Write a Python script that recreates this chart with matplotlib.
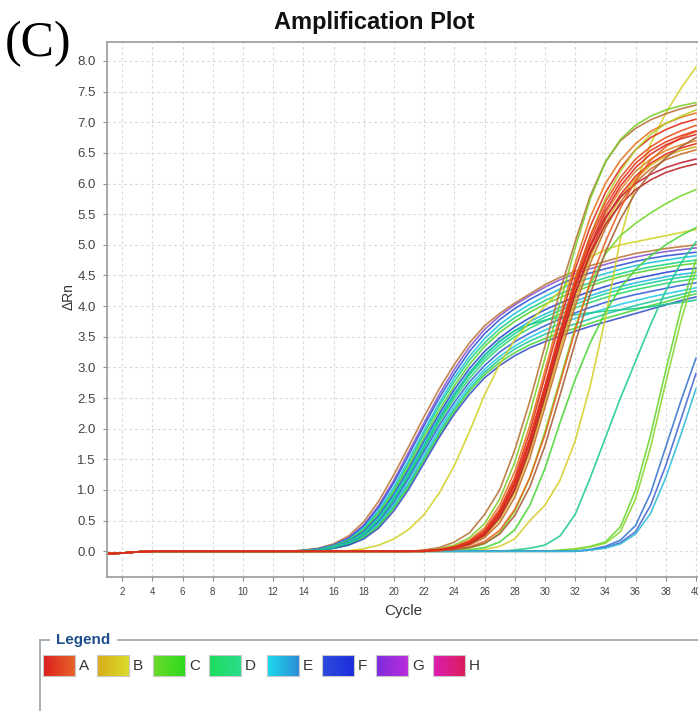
import numpy as np
import matplotlib.pyplot as plt
from matplotlib.lines import Line2D
from matplotlib.colors import LinearSegmentedColormap

plt.rcParams['font.family'] = ['Liberation Sans', 'DejaVu Sans']

cycles = np.arange(1, 41)
start_dip = [-0.04, -0.03, -0.01]

# early wells (rows C-F plus a couple of A/G wells), values from cycle 13 on
early_start = 13
early_colors = ['#c0783c', '#8a5ad0', '#3456d8', '#22c4e0', '#20d488', '#5cd434',
                '#2a48d0', '#2ab8e0', '#1ed49c', '#34d870', '#3a60d8', '#26cce4',
                '#22c8a0', '#4cd83c', '#3a52c8', '#1ec890']
early_values = [
    [0.0, 0.02, 0.05, 0.12, 0.25, 0.48, 0.82, 1.25, 1.72, 2.2, 2.65, 3.05, 3.4, 3.68, 3.88, 4.05, 4.2, 4.35, 4.47, 4.57, 4.66, 4.73, 4.8, 4.86, 4.9, 4.94, 4.97, 5.0],
    [0.0, 0.01, 0.04, 0.1, 0.22, 0.43, 0.75, 1.16, 1.63, 2.1, 2.56, 2.97, 3.33, 3.62, 3.84, 4.02, 4.17, 4.31, 4.43, 4.53, 4.61, 4.68, 4.75, 4.8, 4.85, 4.89, 4.92, 4.95],
    [0.0, 0.01, 0.04, 0.1, 0.21, 0.41, 0.72, 1.12, 1.58, 2.05, 2.5, 2.9, 3.26, 3.55, 3.78, 3.96, 4.11, 4.24, 4.36, 4.46, 4.54, 4.61, 4.67, 4.73, 4.78, 4.82, 4.85, 4.88],
    [0.0, 0.01, 0.03, 0.09, 0.19, 0.38, 0.67, 1.05, 1.5, 1.97, 2.42, 2.83, 3.18, 3.47, 3.7, 3.88, 4.03, 4.16, 4.28, 4.38, 4.46, 4.53, 4.6, 4.66, 4.71, 4.75, 4.79, 4.82],
    [0.0, 0.01, 0.03, 0.08, 0.18, 0.36, 0.64, 1.0, 1.45, 1.92, 2.37, 2.77, 3.12, 3.4, 3.63, 3.81, 3.96, 4.09, 4.2, 4.3, 4.38, 4.46, 4.53, 4.59, 4.64, 4.68, 4.72, 4.75],
    [0.0, 0.01, 0.03, 0.08, 0.17, 0.34, 0.61, 0.97, 1.4, 1.86, 2.3, 2.7, 3.05, 3.34, 3.57, 3.75, 3.9, 4.03, 4.14, 4.24, 4.33, 4.41, 4.48, 4.54, 4.59, 4.63, 4.67, 4.7],
    [0.0, 0.01, 0.03, 0.07, 0.16, 0.32, 0.58, 0.93, 1.35, 1.8, 2.24, 2.64, 2.98, 3.26, 3.48, 3.66, 3.81, 3.94, 4.05, 4.15, 4.24, 4.32, 4.39, 4.45, 4.5, 4.55, 4.59, 4.62],
    [0.0, 0.01, 0.03, 0.07, 0.15, 0.3, 0.55, 0.9, 1.31, 1.76, 2.19, 2.58, 2.92, 3.2, 3.42, 3.6, 3.75, 3.87, 3.98, 4.08, 4.17, 4.25, 4.32, 4.38, 4.43, 4.48, 4.52, 4.55],
    [0.0, 0.01, 0.02, 0.06, 0.14, 0.29, 0.53, 0.87, 1.28, 1.72, 2.15, 2.54, 2.88, 3.15, 3.37, 3.55, 3.7, 3.82, 3.93, 4.03, 4.12, 4.2, 4.27, 4.33, 4.38, 4.43, 4.47, 4.5],
    [0.0, 0.0, 0.02, 0.06, 0.13, 0.27, 0.5, 0.83, 1.23, 1.67, 2.1, 2.49, 2.82, 3.1, 3.32, 3.5, 3.64, 3.76, 3.87, 3.97, 4.06, 4.14, 4.21, 4.27, 4.32, 4.37, 4.41, 4.45],
    [0.0, 0.0, 0.02, 0.05, 0.12, 0.26, 0.48, 0.8, 1.2, 1.63, 2.05, 2.43, 2.76, 3.03, 3.25, 3.42, 3.56, 3.68, 3.79, 3.89, 3.98, 4.06, 4.13, 4.19, 4.24, 4.29, 4.34, 4.38],
    [0.0, 0.0, 0.02, 0.05, 0.11, 0.24, 0.45, 0.76, 1.14, 1.57, 1.99, 2.37, 2.7, 2.97, 3.18, 3.35, 3.49, 3.61, 3.71, 3.8, 3.88, 3.96, 4.03, 4.09, 4.15, 4.2, 4.25, 4.3],
    [0.0, 0.0, 0.02, 0.05, 0.11, 0.23, 0.43, 0.73, 1.1, 1.52, 1.94, 2.32, 2.65, 2.92, 3.13, 3.3, 3.43, 3.54, 3.63, 3.71, 3.79, 3.87, 3.94, 4.01, 4.07, 4.13, 4.19, 4.25],
    [0.0, 0.0, 0.02, 0.05, 0.1, 0.22, 0.41, 0.7, 1.06, 1.48, 1.9, 2.28, 2.61, 2.88, 3.08, 3.24, 3.37, 3.47, 3.56, 3.64, 3.72, 3.8, 3.87, 3.94, 4.01, 4.07, 4.14, 4.2],
    [0.0, 0.0, 0.02, 0.05, 0.1, 0.2, 0.38, 0.66, 1.02, 1.44, 1.86, 2.24, 2.56, 2.83, 3.03, 3.19, 3.32, 3.42, 3.51, 3.59, 3.67, 3.74, 3.81, 3.88, 3.95, 4.02, 4.09, 4.15],
    [0.0, 0.0, 0.02, 0.06, 0.14, 0.28, 0.52, 0.85, 1.25, 1.7, 2.15, 2.55, 2.9, 3.2, 3.43, 3.6, 3.7, 3.77, 3.82, 3.86, 3.89, 3.92, 3.94, 3.96, 3.99, 4.03, 4.06, 4.1],
]

# main A-row bundle, values from cycle 22 on
red_start = 22
red_colors = ['#b8743a', '#7ccf2c', '#e8761e', '#e0301c', '#b4d232', '#e8501e',
              '#e08a28', '#e4281c', '#d8ac20', '#c8702a', '#c42434', '#b82a2c',
              '#ee6420', '#a8603a', '#e83a1c', '#dc2a20']
red_values = [
    [0.02, 0.06, 0.15, 0.3, 0.6, 1.0, 1.65, 2.45, 3.35, 4.25, 5.05, 5.8, 6.35, 6.7, 6.9, 7.04, 7.14, 7.22, 7.28],
    [0.01, 0.04, 0.1, 0.22, 0.45, 0.85, 1.45, 2.25, 3.15, 4.05, 4.95, 5.75, 6.35, 6.72, 6.95, 7.1, 7.2, 7.27, 7.32],
    [0.01, 0.03, 0.08, 0.18, 0.38, 0.75, 1.3, 2.05, 2.95, 3.85, 4.7, 5.45, 6.0, 6.38, 6.65, 6.85, 6.98, 7.08, 7.15],
    [0.01, 0.03, 0.07, 0.16, 0.34, 0.68, 1.2, 1.95, 2.85, 3.75, 4.6, 5.3, 5.85, 6.25, 6.55, 6.75, 6.88, 6.98, 7.05],
    [0.0, 0.02, 0.06, 0.14, 0.3, 0.6, 1.1, 1.8, 2.65, 3.55, 4.4, 5.15, 5.75, 6.2, 6.55, 6.8, 6.98, 7.1, 7.2],
    [0.01, 0.02, 0.06, 0.15, 0.32, 0.65, 1.15, 1.85, 2.7, 3.6, 4.45, 5.15, 5.7, 6.1, 6.4, 6.6, 6.75, 6.86, 6.95],
    [0.01, 0.02, 0.06, 0.14, 0.3, 0.62, 1.1, 1.8, 2.65, 3.5, 4.3, 4.95, 5.5, 5.9, 6.2, 6.4, 6.54, 6.63, 6.7],
    [0.0, 0.02, 0.05, 0.12, 0.27, 0.56, 1.02, 1.7, 2.55, 3.4, 4.2, 4.88, 5.42, 5.82, 6.12, 6.33, 6.48, 6.58, 6.65],
    [0.0, 0.02, 0.05, 0.11, 0.25, 0.52, 0.96, 1.62, 2.45, 3.3, 4.1, 4.8, 5.35, 5.77, 6.08, 6.3, 6.45, 6.54, 6.6],
    [0.0, 0.01, 0.04, 0.1, 0.22, 0.46, 0.88, 1.52, 2.35, 3.2, 4.0, 4.7, 5.27, 5.7, 6.02, 6.24, 6.39, 6.48, 6.55],
    [0.01, 0.02, 0.06, 0.14, 0.3, 0.63, 1.12, 1.82, 2.68, 3.55, 4.35, 4.98, 5.45, 5.78, 6.0, 6.15, 6.26, 6.34, 6.4],
    [0.0, 0.02, 0.05, 0.12, 0.26, 0.55, 1.0, 1.68, 2.52, 3.4, 4.2, 4.85, 5.33, 5.66, 5.9, 6.06, 6.18, 6.26, 6.32],
    [0.0, 0.01, 0.03, 0.07, 0.16, 0.34, 0.68, 1.2, 1.9, 2.75, 3.6, 4.4, 5.05, 5.6, 6.05, 6.38, 6.6, 6.75, 6.85],
    [0.0, 0.01, 0.03, 0.06, 0.13, 0.28, 0.58, 1.05, 1.72, 2.55, 3.4, 4.2, 4.88, 5.42, 5.85, 6.18, 6.42, 6.6, 6.75],
    [0.0, 0.02, 0.06, 0.14, 0.31, 0.63, 1.12, 1.82, 2.68, 3.55, 4.38, 5.08, 5.62, 6.03, 6.33, 6.54, 6.68, 6.78, 6.86],
    [0.0, 0.02, 0.05, 0.13, 0.29, 0.6, 1.08, 1.78, 2.62, 3.48, 4.3, 5.0, 5.55, 5.96, 6.26, 6.48, 6.63, 6.73, 6.8],
]

# remaining single wells: (colour, first cycle, values)
other_wells = [
    ('#d2d22a', 17, [0.01, 0.04, 0.1, 0.2, 0.36, 0.6, 0.95, 1.4, 1.95, 2.55, 3.05, 3.45, 3.75, 4.0, 4.25, 4.5, 4.8, 4.92, 5.0, 5.05, 5.1, 5.15, 5.2, 5.25]),
    ('#d6d02c', 26, [0.03, 0.08, 0.2, 0.5, 0.75, 1.16, 1.8, 2.7, 3.8, 5.1, 6.0, 6.65, 7.15, 7.55, 7.9]),
    ('#74d82c', 25, [0.05, 0.12, 0.3, 0.65, 1.2, 1.95, 2.8, 3.65, 4.35, 4.85, 5.15, 5.35, 5.52, 5.67, 5.8, 5.9]),
    ('#4cd838', 25, [0.02, 0.06, 0.15, 0.35, 0.75, 1.35, 2.1, 2.8, 3.4, 3.9, 4.3, 4.6, 4.82, 5.0, 5.15, 5.28]),
    ('#22cc8c', 28, [0.02, 0.05, 0.1, 0.25, 0.6, 1.2, 1.85, 2.5, 3.1, 3.7, 4.25, 4.7, 5.05]),
    ('#6ad830', 31, [0.02, 0.04, 0.08, 0.15, 0.4, 1.0, 1.9, 2.95, 3.95, 4.75]),
    ('#8cd634', 32, [0.03, 0.07, 0.13, 0.32, 0.85, 1.7, 2.75, 3.75, 4.6]),
    ('#3a78d0', 33, [0.03, 0.08, 0.18, 0.42, 0.95, 1.7, 2.45, 3.15]),
    ('#4a6ad4', 33, [0.02, 0.06, 0.14, 0.32, 0.75, 1.4, 2.15, 2.9]),
    ('#34bcd8', 33, [0.02, 0.05, 0.12, 0.28, 0.62, 1.2, 1.9, 2.65]),
]

legend_names = ['A', 'B', 'C', 'D', 'E', 'F', 'G', 'H']
legend_ramps = [('#dc1e1e', '#e8642a'), ('#d8ac1c', '#dcdc2c'), ('#6cd82c', '#2cdc1c'),
                ('#1cdc5c', '#2cdc8c'), ('#1cdcec', '#2c8cd8'), ('#2c4cdc', '#1c2cdc'),
                ('#7c2cdc', '#bc2cdc'), ('#dc1cb4', '#dc1c5c')]
legend_x = [43, 97, 153, 209, 267, 322, 376, 433]

W, H = 698, 711


def well_curve(first, vals):
    y = np.zeros(len(cycles))
    y[:len(start_dip)] = start_dip
    y[first - 1:first - 1 + len(vals)] = vals
    return y


fig = plt.figure(figsize=(W / 100, H / 100), dpi=100)
ax = fig.add_axes([107 / W, (H - 577) / H, (705 - 107) / W, (577 - 42) / H])

for col, vals in zip(early_colors, early_values):
    ax.plot(cycles, well_curve(early_start, vals), color=col, lw=1.2, alpha=0.9)
for col, first, vals in other_wells:
    ax.plot(cycles, well_curve(first, vals), color=col, lw=1.2, alpha=0.9)
for col, vals in zip(red_colors, red_values):
    ax.plot(cycles, well_curve(red_start, vals), color=col, lw=1.2, alpha=0.9)

ax.set_xlim(1, 40.6)
ax.set_ylim(-0.42, 8.31)
ax.set_xticks(np.arange(2, 41, 2))
ax.set_yticks(np.arange(0, 8.01, 0.5))
ax.set_yticklabels(['%.1f' % v for v in np.arange(0, 8.01, 0.5)])
ax.tick_params(axis='x', labelsize=7, colors='#8c8c8c', labelcolor='#444444', length=3, pad=4)
ax.tick_params(axis='y', labelsize=9.5, colors='#8c8c8c', labelcolor='#444444', length=3, pad=5)
ax.grid(True, color='#dadada', lw=0.8, linestyle=(0, (2.5, 2.5)))
ax.set_axisbelow(True)
for side in ['left', 'bottom', 'top']:
    ax.spines[side].set_color('#9a9a9a')
    ax.spines[side].set_linewidth(1.2)
ax.spines['right'].set_visible(False)

fig.text(69 / W, 1 - 297 / H, '\u0394Rn', rotation=90, ha='center', va='center',
         fontsize=10, color='#333333')
fig.text(403 / W, 1 - 611 / H, 'Cycle', ha='center', va='center', fontsize=11, color='#333333')
fig.text(374 / W, 1 - 22 / H, 'Amplification Plot', ha='center', va='center',
         fontsize=17, fontweight='bold', color='#111111')
fig.text(38 / W, 1 - 44 / H, '(C)', ha='center', va='center', fontsize=36,
         family='Liberation Serif', color='#000000')

# legend panel frame
frame_col = '#9aa4ae'
fig.add_artist(Line2D([40 / W, 40 / W], [1 - 640 / H, 0], transform=fig.transFigure,
                      color=frame_col, lw=1.2))
fig.add_artist(Line2D([40 / W, 49 / W], [1 - 640 / H, 1 - 640 / H], transform=fig.transFigure,
                      color=frame_col, lw=1.2))
fig.add_artist(Line2D([118 / W, 1.0], [1 - 640 / H, 1 - 640 / H], transform=fig.transFigure,
                      color=frame_col, lw=1.2))
fig.text(83 / W, 1 - 640 / H, 'Legend', ha='center', va='center', fontsize=11,
         fontweight='bold', color='#1f4f8c')

ramp = np.linspace(0, 1, 64).reshape(1, -1)
for name, (c0, c1), x0 in zip(legend_names, legend_ramps, legend_x):
    sw = fig.add_axes([x0 / W, 1 - 676 / H, 32 / W, 21 / H])
    sw.imshow(ramp, aspect='auto', cmap=LinearSegmentedColormap.from_list(name, [c0, c1]))
    sw.set_xticks([])
    sw.set_yticks([])
    for s in sw.spines.values():
        s.set_color('#c8c8c8')
        s.set_linewidth(0.8)
    fig.text((x0 + 36) / W, 1 - 666 / H, name, ha='left', va='center', fontsize=11,
             color='#333333')

fig.savefig('out.png', dpi=100)
